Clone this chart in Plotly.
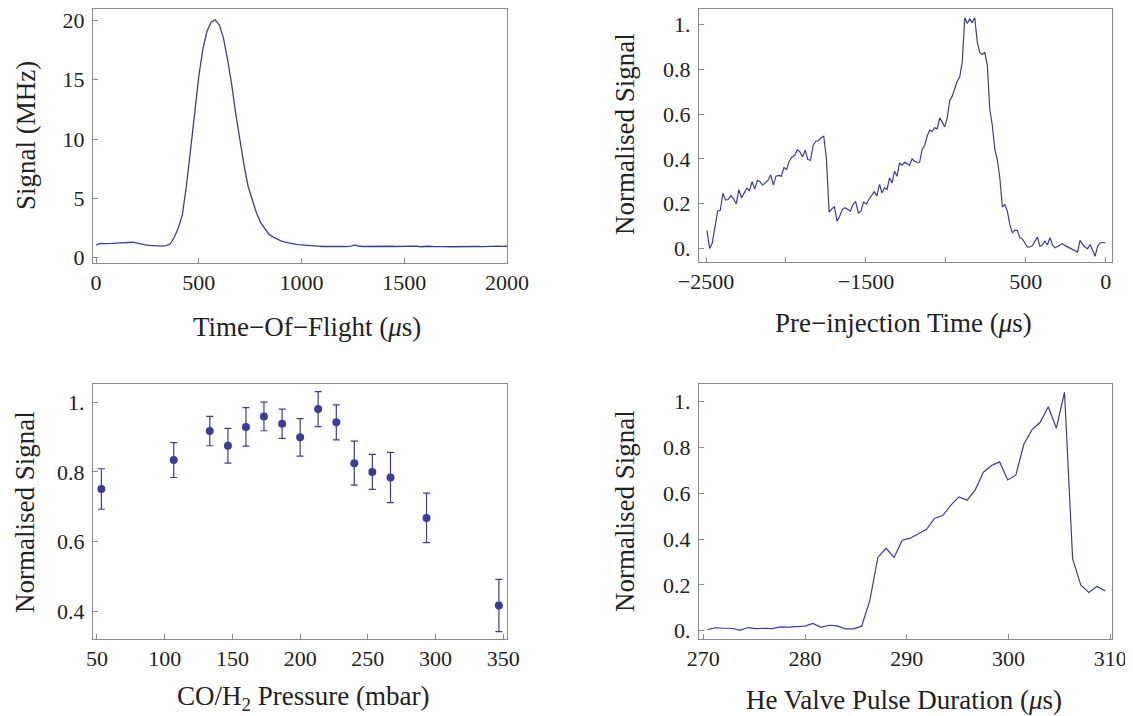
import numpy as np
import plotly.graph_objects as go
from plotly.subplots import make_subplots

# ---- (a) time-of-flight trace, 20 us sampling
tof_us = list(range(0, 2001, 20))
tof_signal = [1.05, 1.20, 1.18, 1.22, 1.20, 1.22, 1.24, 1.25, 1.27, 1.30,
              1.22, 1.13, 1.08, 1.03, 1.01, 1.00, 0.98, 1.02, 1.15, 1.70,
              2.50, 3.60, 6.10, 9.10, 12.5, 15.3, 17.6, 19.1, 19.85, 20.05,
              19.6, 18.5, 16.7, 14.6, 12.1, 9.9, 7.8, 6.0, 4.8, 3.8,
              3.0, 2.45, 2.0, 1.75, 1.55, 1.42, 1.30, 1.22, 1.15, 1.10,
              1.07, 1.03, 1.00, 0.98, 0.97, 0.94, 0.95, 0.93, 0.96, 0.94,
              0.95, 0.93, 0.97, 1.08, 0.96, 0.94, 0.95, 0.93, 0.97, 0.99,
              0.97, 0.95, 0.96, 0.94, 0.95, 0.93, 0.96, 0.94, 0.97, 0.92,
              0.95, 0.96, 0.94, 0.95, 0.97, 0.93, 0.92, 0.93, 0.94, 0.93,
              0.95, 0.94, 0.96, 0.94, 0.93, 0.95, 0.94, 0.96, 0.97, 0.95, 0.96]

# ---- (b) pre-injection scan
pre_signal_a = [0.080, 0.000, 0.025, 0.100, 0.167, 0.171, 0.246, 0.216, 0.219, 0.237,
                0.222, 0.199, 0.263, 0.226, 0.249, 0.269, 0.259, 0.298, 0.266, 0.304,
                0.298, 0.284, 0.293, 0.305, 0.329, 0.284, 0.323, 0.326, 0.323, 0.362,
                0.353, 0.390, 0.409, 0.415, 0.440, 0.432, 0.409, 0.439, 0.397, 0.394,
                0.460, 0.479, 0.481, 0.494, 0.501, 0.400, 0.162, 0.177, 0.186, 0.122,
                0.144, 0.174, 0.182, 0.174, 0.167, 0.196, 0.211, 0.159, 0.167, 0.208,
                0.199, 0.219, 0.237, 0.254, 0.234, 0.286]
pre_signal_b = [0.248, 0.271, 0.263, 0.315, 0.293, 0.345, 0.323, 0.382, 0.372, 0.385,
                0.379, 0.371, 0.400, 0.390, 0.385, 0.385, 0.442, 0.460, 0.501, 0.528,
                0.522, 0.539, 0.534, 0.583, 0.564, 0.543, 0.583, 0.661, 0.680, 0.713,
                0.746, 0.766, 0.832, 1.030, 1.004, 1.025, 1.007, 1.030, 0.921, 0.874,
                0.866, 0.876, 0.817, 0.621, 0.549, 0.442, 0.397, 0.315, 0.186, 0.196,
                0.167, 0.107, 0.070, 0.082, 0.080, 0.048, 0.043, 0.025, 0.006, 0.007,
                0.013, 0.033, 0.051, 0.010, 0.016, 0.033, 0.016, 0.048, 0.016, 0.004,
                0.010, 0.018, 0.022, 0.013, 0.007, 0.003, -0.004, -0.012, -0.016, 0.037,
                0.018, 0.007, -0.001, 0.018, -0.012, -0.034, 0.010, 0.025, 0.028, 0.025]
pre_time = list(np.linspace(-2494, -1415, len(pre_signal_a))) + \
           list(np.linspace(-1415, -4, len(pre_signal_b) + 1))[1:]
pre_signal = pre_signal_a + pre_signal_b

# ---- (c) CO/H2 pressure scan
pressure = [53.3, 106.7, 133.3, 146.7, 160.0, 173.3, 186.7, 200.0, 213.3, 226.7,
            240.0, 253.3, 266.7, 293.3, 346.7]
press_signal = [0.751, 0.834, 0.917, 0.875, 0.929, 0.959, 0.938, 0.899, 0.980, 0.942,
                0.825, 0.800, 0.784, 0.668, 0.417]
press_err = [0.058, 0.050, 0.042, 0.050, 0.055, 0.041, 0.042, 0.054, 0.050, 0.050,
             0.063, 0.050, 0.072, 0.071, 0.075]

# ---- (d) He valve pulse duration scan
pulse_us = list(np.linspace(270.4, 309.5, 50))
pulse_signal = [0.005, 0.013, 0.011, 0.011, 0.002, 0.014, 0.009, 0.011, 0.009, 0.017,
                0.016, 0.018, 0.020, 0.032, 0.015, 0.024, 0.021, 0.008, 0.008, 0.020,
                0.130, 0.320, 0.360, 0.320, 0.395, 0.404, 0.422, 0.443, 0.491, 0.503,
                0.548, 0.584, 0.570, 0.615, 0.692, 0.721, 0.737, 0.658, 0.679, 0.815,
                0.878, 0.910, 0.978, 0.884, 1.041, 0.315, 0.200, 0.167, 0.193, 0.174]

# page body has an 8px margin, so the figure is a bit smaller and
# everything below is placed in window pixels minus that offset
OFF = 8
W, H = 1133 - OFF, 716 - OFF
col = "#3d3d99"
frame = "#8a8a8a"
serif = "Liberation Serif"

fig = make_subplots(rows=2, cols=2)
fig.add_trace(go.Scatter(x=tof_us, y=tof_signal, mode="lines",
                         line=dict(color=col, width=1.3)), row=1, col=1)
fig.add_trace(go.Scatter(x=pre_time, y=pre_signal, mode="lines",
                         line=dict(color=col, width=1.2)), row=1, col=2)
fig.add_trace(go.Scatter(x=pressure, y=press_signal, mode="markers",
                         marker=dict(color=col, size=8),
                         error_y=dict(type="data", array=press_err, color=col,
                                      thickness=1.2, width=3.5)), row=2, col=1)
fig.add_trace(go.Scatter(x=pulse_us, y=pulse_signal, mode="lines",
                         line=dict(color=col, width=1.2)), row=2, col=2)

def px_x(a, b):
    return [(a - OFF) / W, (b - OFF) / W]

def px_y(top, bot):
    return [1 - (bot - OFF) / H, min(1, 1 - (top - OFF) / H)]

common = dict(showline=True, mirror=True, linecolor=frame, linewidth=1,
              ticks="inside", ticklen=5, tickcolor=frame, showgrid=False,
              zeroline=False, automargin=False,
              tickfont=dict(family=serif, size=22, color="#222"))

fig.update_xaxes(common)
fig.update_yaxes(common, ticklabelstandoff=3)

dec = ["0.", "0.2", "0.4", "0.6", "0.8", "1."]
fig.update_xaxes(domain=px_x(93, 507), range=[-15, 2000],
                 tickvals=[0, 500, 1000, 1500, 2000], row=1, col=1)
fig.update_yaxes(domain=px_y(8.5, 263), range=[-0.45, 21.0],
                 tickvals=[0, 5, 10, 15, 20], row=1, col=1)
fig.update_xaxes(domain=px_x(699, 1112), range=[-2544, 39],
                 tickvals=[-2500, -1500, -500, 0],
                 ticktext=["\u22122500", "\u22121500", "500", "0"],
                 minor=dict(tickvals=[-2000, -1000], ticks="inside", ticklen=5,
                            tickcolor=frame), row=1, col=2)
fig.update_yaxes(domain=px_y(8.5, 262), range=[-0.06, 1.071],
                 tickvals=[0, 0.2, 0.4, 0.6, 0.8, 1.0], ticktext=dec, row=1, col=2)
fig.update_xaxes(domain=px_x(93, 507), range=[47.1, 352.7],
                 tickvals=[50, 100, 150, 200, 250, 300, 350], row=2, col=1)
fig.update_yaxes(domain=px_y(384, 639), range=[0.321, 1.052],
                 tickvals=[0.4, 0.6, 0.8, 1.0], ticktext=dec[2:], row=2, col=1)
fig.update_xaxes(domain=px_x(699, 1112), range=[269.57, 310.18],
                 tickvals=[270, 280, 290, 300, 310], row=2, col=2)
fig.update_yaxes(domain=px_y(384, 639), range=[-0.036, 1.077],
                 tickvals=[0, 0.2, 0.4, 0.6, 0.8, 1.0], ticktext=dec, row=2, col=2)

titles = [
    ("Signal (MHz)", 26, 136, -90),
    ("Normalised Signal", 625, 134, -90),
    ("Normalised Signal", 25, 512, -90),
    ("Normalised Signal", 625, 511, -90),
    ("Time\u2212Of\u2212Flight (<i>\u03bc</i>s)", 307, 327, 0),
    ("Pre\u2212injection Time (<i>\u03bc</i>s)", 903, 323, 0),
    ("CO/H<sub>2</sub> Pressure (mbar)", 303, 698, 0),
    ("He Valve Pulse Duration (<i>\u03bc</i>s)", 904, 700, 0),
]
for txt, x, y, ang in titles:
    fig.add_annotation(text=txt, x=(x - OFF) / W, y=1 - (y - OFF) / H,
                       xref="paper", yref="paper",
                       xanchor="center", yanchor="middle", textangle=ang,
                       showarrow=False, font=dict(family=serif, size=27, color="#222"))

fig.update_layout(width=W, height=H, margin=dict(l=0, r=0, t=0, b=0),
                  showlegend=False, plot_bgcolor="white", paper_bgcolor="white")

fig.write_html("out.html")
